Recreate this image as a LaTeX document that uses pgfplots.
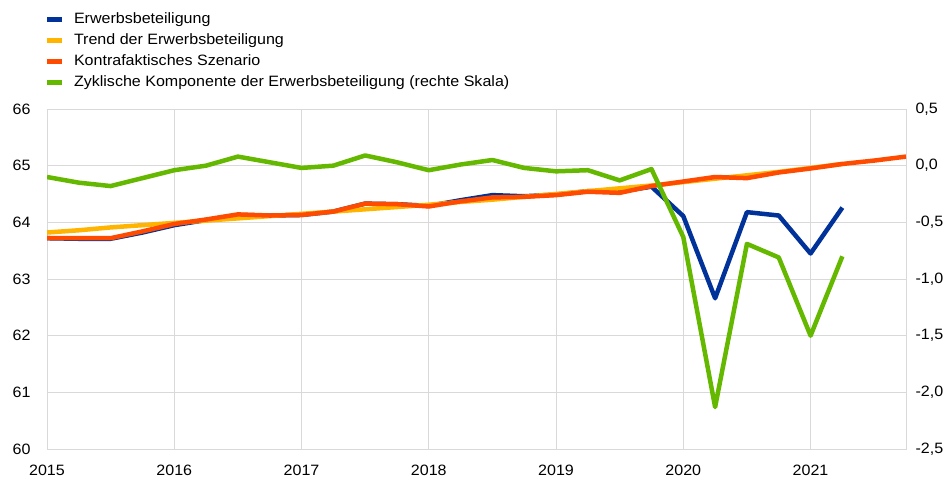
\documentclass[border=0pt]{standalone}
\usepackage{pgfplots}
\pgfplotsset{compat=1.18}
\usepackage{fontspec}
\setmainfont{Liberation Sans}[FakeStretch=1.07]
\definecolor{eblue}{HTML}{003299}
\definecolor{eyellow}{HTML}{FFB400}
\definecolor{eorange}{HTML}{FF4B00}
\definecolor{egreen}{HTML}{65B800}
\definecolor{egrid}{HTML}{D9D9D9}
\begin{document}
\begin{tikzpicture}
\useasboundingbox (0bp,0bp) rectangle (949bp,481bp);
\pgfplotsset{
  common/.style={
    at={(47bp,32bp)}, anchor=south west, scale only axis,
    width=859bp, height=340bp,
    xmin=2015, xmax=2021.75,
    tick style={draw=none},
    ticklabel style={font=\fontsize{15bp}{18bp}\selectfont},
    /pgf/number format/assume math mode=true,
  },
}
\begin{axis}[common,
  ymin=60, ymax=66,
  xtick={2015,2016,2017,2018,2019,2020,2021},
  ytick={60,61,62,63,64,65,66},
  xticklabel style={/pgf/number format/1000 sep={}, yshift=-13bp},
  yticklabel style={xshift=-13bp},
  grid=major,
  major grid style={draw=egrid, line width=0.8bp},
  axis line style={draw=egrid, line width=0.8bp},
  every axis plot/.append style={line width=4.5bp, line join=round},
  legend cell align=left,
  legend image code/.code={\fill[draw=none] (0bp,-2.5bp) rectangle (15bp,2.5bp); \path[draw=none,fill=none] (0bp,0bp) (27bp,0bp);},
  legend style={at={(0,1.288)}, anchor=north west, draw=none, fill=none,
    inner sep=0pt, outer sep=0pt, row sep=5.2bp,
    font=\fontsize{15bp}{18bp}\selectfont,
    nodes={inner sep=0pt, text height=12bp, text depth=4bp}},
]
\addplot[eblue, mark=none] coordinates {
(2015.00,63.72) (2015.25,63.71) (2015.50,63.71) (2015.75,63.82)
(2016.00,63.95) (2016.25,64.04) (2016.50,64.13) (2016.75,64.12)
(2017.00,64.13) (2017.25,64.19) (2017.50,64.33) (2017.75,64.32)
(2018.00,64.29) (2018.25,64.39) (2018.50,64.48) (2018.75,64.46)
(2019.00,64.49) (2019.25,64.55) (2019.50,64.54) (2019.75,64.63)
(2020.00,64.11) (2020.25,62.66) (2020.50,64.18) (2020.75,64.12)
(2021.00,63.45) (2021.25,64.26)};
\addlegendentry{Erwerbsbeteiligung}
\addplot[eyellow, mark=none] coordinates {
(2015.00,63.82) (2015.25,63.86) (2015.50,63.91) (2015.75,63.95)
(2016.00,63.99) (2016.25,64.03) (2016.50,64.07) (2016.75,64.11)
(2017.00,64.15) (2017.25,64.19) (2017.50,64.23) (2017.75,64.27)
(2018.00,64.31) (2018.25,64.36) (2018.50,64.40) (2018.75,64.45)
(2019.00,64.50) (2019.25,64.55) (2019.50,64.60) (2019.75,64.65)
(2020.00,64.71) (2020.25,64.77) (2020.50,64.83) (2020.75,64.89)
(2021.00,64.96) (2021.25,65.03)};
\addlegendentry{Trend der Erwerbsbeteiligung}
\addplot[eorange, mark=none] coordinates {
(2015.00,63.72) (2015.25,63.72) (2015.50,63.72) (2015.75,63.84)
(2016.00,63.97) (2016.25,64.05) (2016.50,64.14) (2016.75,64.12)
(2017.00,64.13) (2017.25,64.19) (2017.50,64.33) (2017.75,64.32)
(2018.00,64.28) (2018.25,64.37) (2018.50,64.44) (2018.75,64.45)
(2019.00,64.48) (2019.25,64.54) (2019.50,64.52) (2019.75,64.64)
(2020.00,64.72) (2020.25,64.80) (2020.50,64.78) (2020.75,64.88)
(2021.00,64.95) (2021.25,65.03) (2021.50,65.09) (2021.75,65.16)};
\addlegendentry{Kontrafaktisches Szenario}
\addlegendimage{egreen, line width=4.5bp}
\addlegendentry{Zyklische Komponente der Erwerbsbeteiligung (rechte Skala)}
\end{axis}
\begin{axis}[common,
  axis x line=none, axis y line*=right,
  axis line style={draw=none},
  ymin=-2.5, ymax=0.5,
  ytick={-2.5,-2,-1.5,-1,-0.5,0,0.5},
  yticklabel style={xshift=6bp, /pgf/number format/.cd, use comma, fixed, fixed zerofill, precision=1},
]
\addplot[egreen, mark=none, line width=4.5bp, line join=round] coordinates {
(2015.00,-0.10) (2015.25,-0.15) (2015.50,-0.18) (2015.75,-0.11)
(2016.00,-0.04) (2016.25,0.00) (2016.50,0.08) (2016.75,0.03)
(2017.00,-0.02) (2017.25,0.00) (2017.50,0.09) (2017.75,0.03)
(2018.00,-0.04) (2018.25,0.01) (2018.50,0.05) (2018.75,-0.02)
(2019.00,-0.05) (2019.25,-0.04) (2019.50,-0.13) (2019.75,-0.03)
(2020.00,-0.63) (2020.25,-2.13) (2020.50,-0.69) (2020.75,-0.81)
(2021.00,-1.50) (2021.25,-0.80)};
\end{axis}
\end{tikzpicture}
\end{document}
